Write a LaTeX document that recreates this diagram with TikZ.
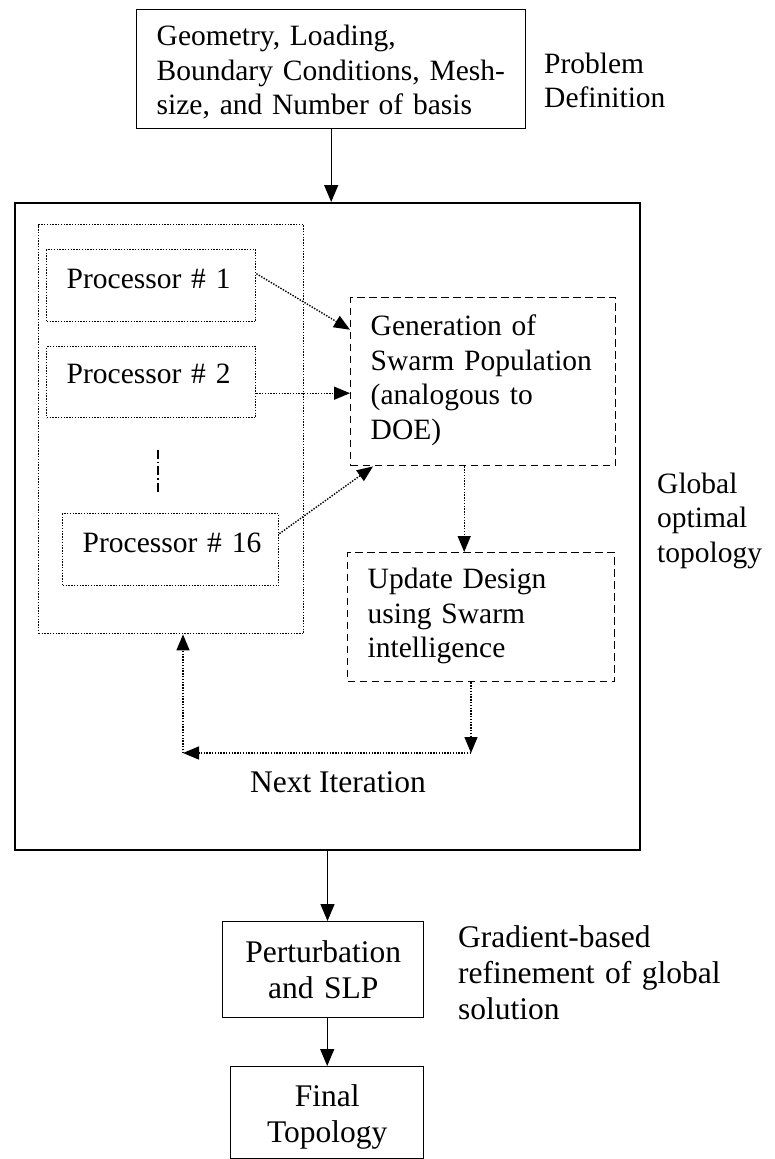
\documentclass[tikz,border=0pt]{standalone}
\usepackage{fontspec}
\setmainfont{Liberation Serif}
\usetikzlibrary{arrows.meta}

\begin{document}
\begin{tikzpicture}[x=1pt, y=-1pt,
		every node/.style={font=\fontsize{29.5}{34.5}\selectfont, inner ysep=0pt, inner xsep=20pt, align=left, anchor=north west},
		bigtext/.style={font=\fontsize{31.5}{36}\selectfont},
		solidbox/.style={draw, line width=1.4pt},
		dotbox/.style={draw, line width=1.4pt, dash pattern=on 1.4pt off 1.4pt},
		dashbox/.style={draw, line width=1.4pt, dash pattern=on 7.5pt off 4.5pt},
		arr/.style={line width=1.4pt, -{Triangle[length=17pt,width=14pt]}},
		dotarr/.style={line width=1.4pt, dash pattern=on 1.4pt off 1.4pt, -{Triangle[length=16pt,width=13pt]}},
		caption/.style={inner sep=0pt, anchor=base west}]
		\useasboundingbox (0,0) rectangle (774,1159);
		% frames
		\node[solidbox, line width=2pt, minimum width=625pt, minimum height=647pt, inner sep=0pt] (glob) at (14,202) {};
		\node[dotbox, minimum width=265pt, minimum height=409pt, inner sep=0pt] (procs) at (38,224) {};
		% boxes
		\node[solidbox, text width=349pt, text height=36pt, text depth=83pt] (prob) at (136,9) {Geometry, Loading,\\Boundary Conditions, Mesh-\\size, and Number of basis};
		\node[dotbox, text width=169pt, text height=39pt, text depth=33pt] (p1) at (46,249) {\mbox{Processor \# 1}};
		\node[dotbox, text width=169pt, text height=37pt, text depth=34pt] (p2) at (46,346) {\mbox{Processor \# 2}};
		\node[dotbox, text width=176pt, text height=39pt, text depth=33pt] (p16) at (62,513) {\mbox{Processor \# 16}};
		\node[dashbox, text width=225pt, text height=38pt, text depth=130pt] (gen) at (350,297) {Generation of\\Swarm Population\\(analogous to\\DOE)};
		\node[dashbox, text width=227pt, text height=36pt, text depth=93pt] (upd) at (347,552) {Update Design\\using Swarm\\intelligence};
		\node[solidbox, bigtext, text width=161pt, align=center, text height=41pt, text depth=55pt] (pert) at (222,921) {Perturbation\\and SLP};
		\node[solidbox, bigtext, text width=153pt, align=center, text height=40pt, text depth=52pt] (final) at (230,1066) {Final\\Topology};
		% side texts
		\node[caption, text width=160pt] (probcap) at (544,73) {Problem\\Definition};
		\node[caption, text width=115pt] (globcap) at (657,493) {Global\\optimal\\topology};
		\node[caption, bigtext, text width=300pt] (gradcap) at (458,947) {Gradient-based\\refinement of global\\solution};
		\node[caption, bigtext, anchor=base] (next) at (338,792) {Next Iteration};
		% main flow
		\draw[arr] (prob.south) -- (prob.south |- glob.north);
		\draw[arr] (glob.south) -- (glob.south |- pert.north);
		\draw[arr] (final.north |- pert.south) -- (final.north);
		% processors to swarm
		\coordinate (p2out) at ([yshift=-11pt]p2.east);
		\draw[dotarr] ([yshift=12pt]p1.east) -- ([yshift=52pt]gen.west);
		\draw[dotarr] (p2out) -- (p2out -| gen.west);
		\draw[dotarr] ([yshift=16pt]p16.east) -- ([xshift=23pt]gen.south west);
		\coordinate (genout) at ([xshift=-19pt]gen.south);
		\draw[dotarr] (genout) -- (genout |- upd.north);
		% next iteration loop
		\coordinate (loopr) at (471,753);
		\coordinate (loopl) at (183,753);
		\draw[dotarr] (loopr |- upd.south) -- (loopr);
		\draw[dotarr] (loopr) -- (loopl);
		\draw[dotarr] (loopl) -- (loopl |- procs.south);
		% dots between processors
		\coordinate (dotstop) at (158,450);
		\coordinate (dotsbot) at (158,492);
		\draw[line width=1.3pt, dash pattern=on 9pt off 3pt on 1.3pt off 3pt] (dotstop) -- (dotsbot);
	\end{tikzpicture}
\end{document}
